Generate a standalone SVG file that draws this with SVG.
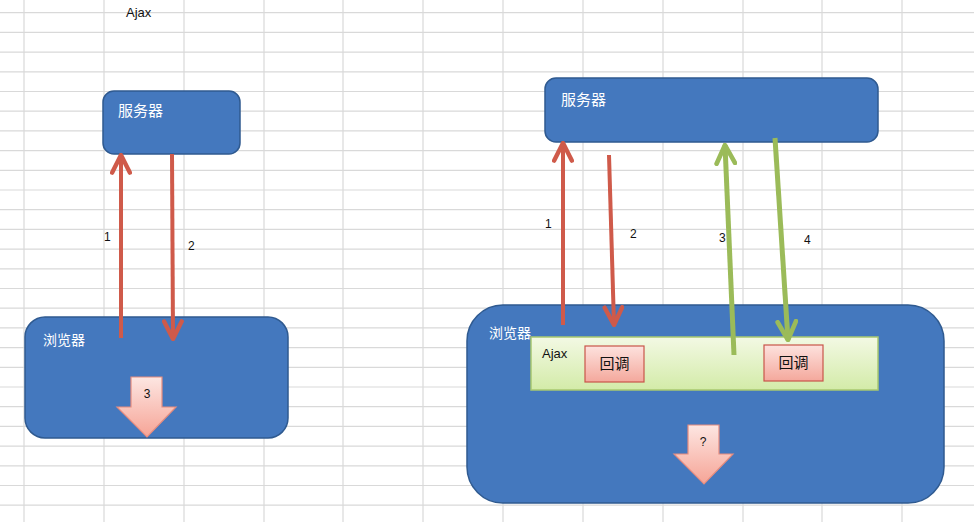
<svg xmlns="http://www.w3.org/2000/svg" width="974" height="522" viewBox="0 0 974 522">
<defs>
  <pattern id="grid" x="0" y="0" width="974" height="522" patternUnits="userSpaceOnUse">
  </pattern>
  <linearGradient id="pinkArrow" x1="0" y1="0" x2="0" y2="1">
    <stop offset="0" stop-color="#fde6e2"/>
    <stop offset="1" stop-color="#f6a496"/>
  </linearGradient>
  <linearGradient id="pinkBox" x1="0" y1="0" x2="0" y2="1">
    <stop offset="0" stop-color="#fde2de"/>
    <stop offset="1" stop-color="#f4a89c"/>
  </linearGradient>
  <linearGradient id="greenBox" x1="0" y1="0" x2="0" y2="1">
    <stop offset="0" stop-color="#f3f9e4"/>
    <stop offset="1" stop-color="#d3eba8"/>
  </linearGradient>
  <marker id="redHead" viewBox="0 0 10 10" refX="9" refY="5" markerWidth="5.5" markerHeight="5.5" orient="auto" markerUnits="strokeWidth">
    <path d="M1,1 L9,5 L1,9" fill="none" stroke="#cf5a4a" stroke-width="2" stroke-linecap="round" stroke-linejoin="round"/>
  </marker>
  <marker id="greenHead" viewBox="0 0 10 10" refX="9" refY="5" markerWidth="4.6" markerHeight="4.6" orient="auto" markerUnits="strokeWidth">
    <path d="M1,1 L9,5 L1,9" fill="none" stroke="#9bbb59" stroke-width="2" stroke-linecap="round" stroke-linejoin="round"/>
  </marker>
</defs>
<style>
  .grid line { stroke: #d9d9d9; stroke-width: 1.2; }
  .blue { fill: #4478be; stroke: #2f5a90; stroke-width: 1.5; }
  .wlabel { fill: #ffffff; font-family: "Noto Sans CJK SC", "Liberation Sans", sans-serif; font-size: 14px; }
  .num { fill: #111111; font-family: "Liberation Sans", sans-serif; font-size: 12px; }
  .red { stroke: #cf5a4a; stroke-width: 4; fill: none; marker-end: url(#redHead); }
  .green { stroke: #9bbb59; stroke-width: 5; fill: none; marker-end: url(#greenHead); }
  .block { fill: url(#pinkArrow); stroke: #e68c7e; stroke-width: 1.2; }
  .cb { fill: url(#pinkBox); stroke: #c9554a; stroke-width: 1.2; }
  .cbt { fill: #111111; font-family: "Noto Sans CJK SC", sans-serif; font-size: 15px; text-anchor: middle; }
</style>
<rect width="974" height="522" fill="#ffffff"/>
<g class="grid">
  <line x1="24" y1="0" x2="24" y2="522"/>
  <line x1="104" y1="0" x2="104" y2="522"/>
  <line x1="184" y1="0" x2="184" y2="522"/>
  <line x1="264" y1="0" x2="264" y2="522"/>
  <line x1="343" y1="0" x2="343" y2="522"/>
  <line x1="423" y1="0" x2="423" y2="522"/>
  <line x1="503" y1="0" x2="503" y2="522"/>
  <line x1="583" y1="0" x2="583" y2="522"/>
  <line x1="663" y1="0" x2="663" y2="522"/>
  <line x1="743" y1="0" x2="743" y2="522"/>
  <line x1="822" y1="0" x2="822" y2="522"/>
  <line x1="902" y1="0" x2="902" y2="522"/>
  <line x1="0" y1="12.7" x2="974" y2="12.7"/>
  <line x1="0" y1="32.4" x2="974" y2="32.4"/>
  <line x1="0" y1="52.1" x2="974" y2="52.1"/>
  <line x1="0" y1="71.8" x2="974" y2="71.8"/>
  <line x1="0" y1="91.5" x2="974" y2="91.5"/>
  <line x1="0" y1="111.2" x2="974" y2="111.2"/>
  <line x1="0" y1="130.9" x2="974" y2="130.9"/>
  <line x1="0" y1="150.6" x2="974" y2="150.6"/>
  <line x1="0" y1="170.3" x2="974" y2="170.3"/>
  <line x1="0" y1="190.0" x2="974" y2="190.0"/>
  <line x1="0" y1="209.7" x2="974" y2="209.7"/>
  <line x1="0" y1="229.4" x2="974" y2="229.4"/>
  <line x1="0" y1="249.1" x2="974" y2="249.1"/>
  <line x1="0" y1="268.8" x2="974" y2="268.8"/>
  <line x1="0" y1="288.5" x2="974" y2="288.5"/>
  <line x1="0" y1="308.2" x2="974" y2="308.2"/>
  <line x1="0" y1="327.9" x2="974" y2="327.9"/>
  <line x1="0" y1="347.6" x2="974" y2="347.6"/>
  <line x1="0" y1="367.3" x2="974" y2="367.3"/>
  <line x1="0" y1="387.0" x2="974" y2="387.0"/>
  <line x1="0" y1="406.7" x2="974" y2="406.7"/>
  <line x1="0" y1="426.4" x2="974" y2="426.4"/>
  <line x1="0" y1="446.1" x2="974" y2="446.1"/>
  <line x1="0" y1="465.8" x2="974" y2="465.8"/>
  <line x1="0" y1="485.5" x2="974" y2="485.5"/>
  <line x1="0" y1="505.2" x2="974" y2="505.2"/>
</g>

<text x="126" y="17" class="num" font-size="13" style="font-size:13px">Ajax</text>

<g id="server-left">
  <rect x="103" y="91" width="137" height="63" rx="11" class="blue"/>
  <text x="118" y="116" class="wlabel" style="font-size:15px">服务器</text>
</g>
<g id="browser-left">
  <rect x="25" y="317" width="263" height="121" rx="20" class="blue"/>
  <text x="43" y="345" class="wlabel">浏览器</text>
</g>
<g id="block-arrow-3">
  <path d="M131,377 L162,377 L162,407 L176,407 L147,437 L117,407 L131,407 Z" class="block"/>
  <text x="147" y="398" class="num" text-anchor="middle">3</text>
</g>

<g id="server-right">
  <rect x="545" y="78" width="333" height="64" rx="11" class="blue"/>
  <text x="561" y="105" class="wlabel" style="font-size:15px">服务器</text>
</g>
<g id="browser-right">
  <rect x="467" y="305" width="477" height="198" rx="36" class="blue"/>
  <text x="489" y="338" class="wlabel">浏览器</text>
</g>
<g id="ajax-box">
  <rect x="531" y="337" width="347" height="53" fill="url(#greenBox)" stroke="#a8c870" stroke-width="1.5"/>
  <text x="542" y="358" class="num" style="font-size:13px">Ajax</text>
</g>
<g id="callback-1">
  <rect x="585" y="346" width="59" height="36" class="cb"/>
  <text x="614.5" y="369" class="cbt">回调</text>
</g>
<g id="callback-2">
  <rect x="764" y="345" width="59" height="36" class="cb"/>
  <text x="793.5" y="368" class="cbt">回调</text>
</g>
<g id="block-arrow-q">
  <path d="M688,425 L719,425 L719,454 L733,454 L704,484 L674,454 L688,454 Z" class="block"/>
  <text x="703" y="446" class="num" text-anchor="middle">?</text>
</g>

<g id="connectors">
  <line x1="121" y1="338" x2="121" y2="155" class="red"/>
  <line x1="172" y1="154" x2="173" y2="339" class="red"/>
  <line x1="563" y1="325" x2="563" y2="143" class="red"/>
  <line x1="609" y1="155" x2="614" y2="325" class="red"/>
  <line x1="734" y1="355" x2="725" y2="145" class="green"/>
  <line x1="775" y1="138" x2="788" y2="340" class="green"/>
</g>
<g id="labels">
  <text x="104" y="241" class="num">1</text>
  <text x="188" y="250" class="num">2</text>
  <text x="545" y="228" class="num">1</text>
  <text x="630" y="238" class="num">2</text>
  <text x="719" y="242" class="num">3</text>
  <text x="804" y="244" class="num">4</text>
</g>
</svg>
